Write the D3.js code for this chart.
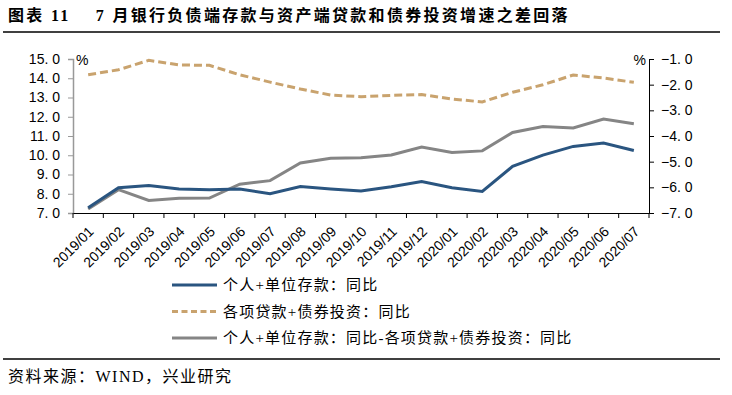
<!DOCTYPE html>
<html>
<head>
<meta charset="utf-8">
<script src="https://cdn.jsdelivr.net/npm/d3@7"></script>
<style>
  body { margin: 0; background: #fff; }
  svg { display: block; }
</style>
</head>
<body>
<svg id="chart"></svg>
<script>
var months = ["2019/01","2019/02","2019/03","2019/04","2019/05","2019/06","2019/07","2019/08","2019/09","2019/10",
              "2019/11","2019/12","2020/01","2020/02","2020/03","2020/04","2020/05","2020/06","2020/07"];
// 个人+单位存款：同比 (left axis)
var deposits = [7.27, 8.31, 8.43, 8.25, 8.21, 8.25, 8.0, 8.38, 8.25, 8.14,
                8.36, 8.64, 8.31, 8.12, 9.42, 10.01, 10.46, 10.63, 10.25];
// 各项贷款+债券投资：同比 (left axis)
var loansBonds = [14.18, 14.44, 14.93, 14.69, 14.67, 14.18, 13.8, 13.44, 13.13, 13.04,
                  13.11, 13.15, 12.92, 12.77, 13.27, 13.66, 14.17, 14.01, 13.79];
// 差值 (right axis)
var gap = [-6.84, -6.09, -6.51, -6.43, -6.42, -5.88, -5.74, -5.05, -4.87, -4.85,
           -4.74, -4.43, -4.64, -4.58, -3.86, -3.63, -3.69, -3.34, -3.52];
var leftTicks = [7, 8, 9, 10, 11, 12, 13, 14, 15];
var rightTicks = [-7, -6, -5, -4, -3, -2, -1];
var seriesNames = ["个人+单位存款：同比", "各项贷款+债券投资：同比", "个人+单位存款：同比-各项贷款+债券投资：同比"];

var W = 732, H = 395;
var margin = {top: 59, right: 83, bottom: 182, left: 73},
    width = W - margin.left - margin.right,
    height = H - margin.top - margin.bottom;

var svg = d3.select("#chart").attr("width", W).attr("height", H);
var cjk = "'Liberation Serif', 'Noto Sans CJK SC', serif";
var num = "'Liberation Sans', Arial, sans-serif";

// title
svg.append("text")
    .attr("x", 8).attr("y", 21)
    .style("font-family", cjk).style("font-size", "16px").style("font-weight", "bold")
    .style("letter-spacing", "2.3px").style("white-space", "pre")
    .text("图表 11    7 月银行负债端存款与资产端贷款和债券投资增速之差回落");
svg.append("line").attr("x1", 3).attr("x2", 720).attr("y1", 32).attr("y2", 32)
    .attr("stroke", "#000").attr("stroke-width", 1.5);
svg.append("line").attr("x1", 3).attr("x2", 720).attr("y1", 359).attr("y2", 359)
    .attr("stroke", "#000").attr("stroke-width", 1.5);
svg.append("text")
    .attr("x", 8).attr("y", 382)
    .style("font-family", cjk).style("font-size", "16px").style("letter-spacing", "1.5px")
    .text("资料来源：WIND，兴业研究");

var g = svg.append("g").attr("transform", "translate(" + margin.left + "," + margin.top + ")");

var x = d3.scaleBand().domain(months).range([0, width]);
var y = d3.scaleLinear().domain([7, 15]).range([height, 0]);
var y2 = d3.scaleLinear().domain([-7, -1]).range([height, 0]);
var cx = function(i) { return x(months[i]) + x.bandwidth() / 2; };

// left axis
var yAxis = d3.axisLeft(y).tickValues(leftTicks).tickSize(5).tickPadding(8)
    .tickFormat(function(d) { return d3.format(".1f")(d).replace(".", ". "); });
var gl = g.append("g").call(yAxis);
gl.select(".domain").attr("stroke", "#999").attr("stroke-width", 1.5);
gl.selectAll(".tick line").attr("stroke", "#999");
gl.selectAll(".tick text").style("font-family", num).style("font-size", "14px")
    .style("white-space", "pre").attr("fill", "#000");

// right axis
var yAxis2 = d3.axisRight(y2).tickValues(rightTicks).tickSize(5).tickPadding(7)
    .tickFormat(function(d) { return d3.format(".1f")(d).replace("-", "−").replace(".", ". "); });
var gr = g.append("g").attr("transform", "translate(" + width + ",0)").call(yAxis2);
gr.select(".domain").attr("stroke", "#000");
gr.selectAll(".tick line").attr("stroke", "#000");
gr.selectAll(".tick text").style("font-family", num).style("font-size", "14px")
    .style("white-space", "pre").attr("fill", "#000");

// x axis
var xAxis = d3.axisBottom(x).tickSize(0);
var gx = g.append("g").attr("transform", "translate(0," + height + ")").call(xAxis);
gx.select(".domain").attr("stroke", "#000").attr("stroke-width", 1.2);
gx.selectAll(".tick text")
    .style("font-family", num).style("font-size", "14px").attr("fill", "#000")
    .attr("text-anchor", "end")
    .attr("x", 0).attr("y", 0).attr("dy", "0.35em")
    .attr("transform", "translate(3,16) rotate(-45)");
gx.selectAll(".bound").data(d3.range(months.length + 1)).enter().append("line")
    .attr("x1", function(i) { return i * x.step(); })
    .attr("x2", function(i) { return i * x.step(); })
    .attr("y1", 0).attr("y2", 5).attr("stroke", "#000");

g.append("text").attr("x", 3).attr("y", 6).style("font-family", num).style("font-size", "14px").text("%");
g.append("text").attr("x", width - 3).attr("y", 6).attr("text-anchor", "end")
    .style("font-family", num).style("font-size", "14px").text("%");

var colors = ["#2a5580", "#c9a36e", "#858585"];
var dashes = [null, "8,4", null];

var lineL = d3.line().x(function(d, i) { return cx(i); }).y(function(d) { return y(d); });
var lineR = d3.line().x(function(d, i) { return cx(i); }).y(function(d) { return y2(d); });

g.append("path").datum(loansBonds).attr("d", lineL)
    .attr("fill", "none").attr("stroke", colors[1]).attr("stroke-width", 3).attr("stroke-dasharray", dashes[1]);
g.append("path").datum(gap).attr("d", lineR)
    .attr("fill", "none").attr("stroke", colors[2]).attr("stroke-width", 3);
g.append("path").datum(deposits).attr("d", lineL)
    .attr("fill", "none").attr("stroke", colors[0]).attr("stroke-width", 3);

// legend
var legend = svg.append("g").attr("transform", "translate(172,285)");
var items = legend.selectAll("g").data(seriesNames).enter().append("g")
    .attr("transform", function(d, i) { return "translate(0," + (i * 26.5) + ")"; });
items.append("line").attr("x1", 0).attr("x2", 45).attr("y1", 0).attr("y2", 0)
    .attr("stroke", function(d, i) { return colors[i]; })
    .attr("stroke-width", 3)
    .attr("stroke-dasharray", function(d, i) { return dashes[i] ? "6,3.5" : null; });
items.append("text").attr("x", 51).attr("y", 5)
    .style("font-family", cjk).style("font-size", "15px").style("letter-spacing", "1.2px")
    .text(function(d) { return d; });
</script>
</body>
</html>
